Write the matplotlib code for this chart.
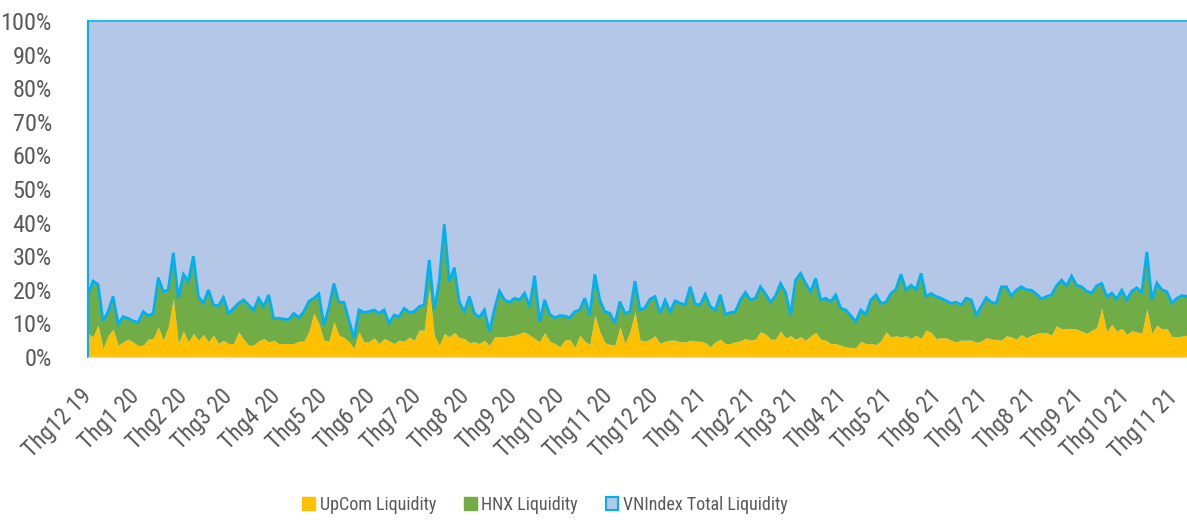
import numpy as np
import pandas as pd
import matplotlib
matplotlib.use("Agg")
import matplotlib.pyplot as plt
import matplotlib.dates as mdates
from matplotlib.patches import Patch
from matplotlib.transforms import ScaledTranslation

plt.rcParams['font.family'] = ['Liberation Sans Narrow', 'Roboto Condensed', 'DejaVu Sans Condensed', 'Roboto', 'DejaVu Sans']
plt.rcParams['font.stretch'] = 'condensed'

# ---- data (percent share of total market liquidity) ----
# UpCom + HNX combined share (top of the green band)
upcom_hnx_share = [
    18.5, 22.6, 21.6, 10.7, 13.5, 18.0, 9.8, 12.0, 11.5, 10.7, 10.3, 13.5, 12.3, 13.0, 23.6, 19.4, 20.0, 31.0, 17.5, 24.6, 22.5, 30.0,
    18.0, 16.0, 20.0, 15.5, 15.2, 17.7, 13.0, 14.5, 16.0, 17.0, 15.5, 14.0, 17.5, 15.0, 18.5, 11.5, 11.5, 11.3, 11.1, 13.0, 11.7, 13.5,
    16.5, 17.5, 18.8, 9.5, 14.7, 21.9, 16.3, 16.3, 11.0, 5.6, 14.0, 13.3, 13.5, 14.0, 13.0, 14.0, 10.0, 12.5, 12.0, 14.5, 13.3, 13.5,
    15.0, 15.5, 28.9, 14.0, 22.6, 39.5, 22.4, 26.6, 16.3, 13.5, 18.0, 13.0, 11.8, 14.0, 7.5, 14.3, 19.6, 17.0, 16.3, 17.5, 17.0, 19.0,
    15.0, 24.2, 10.5, 17.0, 12.7, 11.7, 12.3, 12.2, 11.7, 13.5, 14.0, 17.5, 12.5, 24.6, 16.9, 13.5, 13.0, 10.0, 16.5, 13.0, 13.5, 22.6,
    14.0, 14.7, 17.2, 18.0, 13.0, 16.9, 13.5, 16.7, 16.0, 15.5, 20.9, 15.7, 15.5, 18.7, 15.0, 14.0, 18.5, 12.7, 13.2, 13.5, 17.0, 19.2,
    17.0, 17.5, 20.9, 18.8, 16.3, 18.2, 21.9, 19.2, 12.5, 22.9, 24.9, 21.9, 19.4, 23.4, 17.0, 17.5, 16.5, 18.5, 14.5, 14.0, 12.3, 10.5,
    14.0, 12.7, 17.0, 18.5, 16.0, 16.3, 18.9, 20.2, 24.6, 19.9, 21.4, 20.0, 24.9, 18.0, 18.9, 18.0, 17.5, 16.7, 16.0, 16.3, 15.5, 17.5,
    17.0, 12.5, 15.0, 17.7, 16.3, 16.0, 20.9, 20.9, 18.2, 19.9, 20.9, 20.0, 19.9, 18.7, 17.3, 18.0, 18.5, 21.2, 22.9, 21.2, 24.1, 21.4,
    20.9, 19.6, 19.0, 21.2, 21.9, 18.0, 19.0, 17.3, 19.9, 17.0, 19.6, 20.6, 19.2, 31.3, 17.0, 22.0, 20.0, 19.4, 16.0, 17.5, 18.3, 18.0,
]

upcom_share = [
    7.0, 6.0, 9.5, 2.6, 6.3, 8.3, 3.5, 4.5, 5.3, 4.4, 3.4, 3.5, 5.3, 5.5, 9.0, 5.0, 9.0, 17.5, 4.0, 7.7, 4.5, 7.0,
    5.0, 6.7, 4.5, 6.5, 4.0, 5.0, 4.0, 4.0, 7.5, 5.3, 3.5, 3.5, 4.8, 5.5, 4.5, 5.0, 4.0, 4.0, 4.0, 4.0, 4.7, 4.7,
    7.5, 13.0, 10.0, 5.0, 4.7, 10.5, 6.5, 5.8, 4.5, 2.6, 7.5, 4.5, 4.5, 5.7, 4.0, 5.5, 4.8, 4.0, 5.0, 4.7, 5.9, 5.0,
    8.0, 8.0, 20.4, 6.3, 3.5, 7.0, 6.0, 7.3, 5.8, 5.5, 4.3, 4.5, 4.0, 5.0, 3.4, 6.0, 6.0, 6.0, 6.3, 6.5, 7.0, 7.5,
    6.5, 5.5, 4.5, 7.3, 4.7, 4.0, 3.0, 5.0, 5.3, 2.8, 6.5, 4.7, 3.7, 12.5, 7.5, 4.3, 3.7, 3.5, 9.0, 4.0, 7.5, 13.5,
    5.0, 4.7, 5.3, 6.3, 4.0, 4.7, 5.0, 5.0, 4.5, 4.5, 5.0, 4.7, 4.7, 4.3, 3.0, 4.5, 5.3, 4.0, 4.0, 4.5, 4.8, 5.5,
    5.0, 5.3, 7.5, 6.9, 5.3, 5.3, 7.7, 5.7, 6.3, 5.3, 6.0, 5.0, 6.3, 7.3, 5.3, 5.0, 4.0, 4.0, 3.5, 3.0, 2.8, 2.8,
    4.7, 4.0, 4.0, 3.7, 4.7, 7.5, 6.0, 6.3, 6.0, 6.3, 5.5, 6.5, 5.5, 8.0, 7.3, 5.5, 5.7, 5.7, 5.0, 4.5, 5.0, 5.0,
    5.0, 4.4, 4.7, 5.8, 5.3, 5.2, 5.0, 6.3, 6.0, 5.3, 6.7, 5.7, 6.5, 7.0, 7.3, 7.3, 6.5, 9.3, 8.3, 8.5, 8.5, 8.3,
    7.7, 7.0, 8.0, 8.7, 14.5, 7.5, 9.7, 7.7, 8.5, 6.7, 7.8, 7.5, 7.0, 14.3, 7.0, 9.5, 8.3, 8.5, 6.0, 6.0, 6.2, 6.5,
]

month_labels = ["Thg12 19", "Thg1 20", "Thg2 20", "Thg3 20", "Thg4 20", "Thg5 20", "Thg6 20", "Thg7 20",
                "Thg8 20", "Thg9 20", "Thg10 20", "Thg11 20", "Thg12 20", "Thg1 21", "Thg2 21", "Thg3 21",
                "Thg4 21", "Thg5 21", "Thg6 21", "Thg7 21", "Thg8 21", "Thg9 21", "Thg10 21", "Thg11 21"]
series_names = ["UpCom Liquidity", "HNX Liquidity", "VNIndex Total Liquidity"]

start_date, end_date = "2019-12-01", "2021-11-09"

# ---- derived ----
upcom = np.array(upcom_share)
top = np.array(upcom_hnx_share)
hnx = top - upcom
vn = 100 - top
dates = pd.date_range(start_date, end_date, periods=len(upcom))
x = mdates.date2num(dates)

c_up, c_hnx, c_vn, c_edge = "#FFC000", "#70AD47", "#B4C7E7", "#00B0F0"
txt = "#595959"

fig = plt.figure(figsize=(11.87, 5.2), dpi=100)
ax = fig.add_axes([88/1187, 163/520, 1 - 88/1187, (357-21)/520])

ax.fill_between(x, 0, upcom, color=c_up, lw=0)
ax.fill_between(x, upcom, upcom + hnx, color=c_hnx, lw=0)
ax.fill_between(x, upcom + hnx, upcom + hnx + vn, color=c_vn, lw=0)
ax.plot(x, upcom + hnx, color=c_edge, lw=2, solid_joinstyle="miter")

ax.set_ylim(0, 100)
ax.set_xlim(x[0], x[-1])
ax.set_yticks(np.arange(0, 101, 10))
ax.set_yticklabels([f"{v}%" for v in range(0, 101, 10)])

ticks = mdates.date2num(pd.date_range(start_date, periods=len(month_labels), freq="MS"))
ax.set_xticks(ticks)
ax.set_xticklabels(month_labels, rotation=45, ha="right", rotation_mode="anchor", va="center")
shift = ScaledTranslation(5/100, -9/100, fig.dpi_scale_trans)
for lab in ax.get_xticklabels():
    lab.set_transform(lab.get_transform() + shift)

ax.tick_params(axis="y", length=0, pad=26, labelsize=17.5, labelcolor=txt)
ax.tick_params(axis="x", length=0, pad=26, labelsize=16.8, labelcolor=txt)
ax.spines["right"].set_visible(False)
ax.spines["top"].set_color(c_edge)
ax.spines["top"].set_linewidth(1.2)
ax.spines["left"].set_color(c_edge)
ax.spines["left"].set_linewidth(1.5)
ax.spines["bottom"].set_color("#D9D9D9")
ax.spines["bottom"].set_linewidth(1)

handles = [Patch(facecolor=c_up, edgecolor=c_up),
           Patch(facecolor=c_hnx, edgecolor=c_hnx),
           Patch(facecolor=c_vn, edgecolor=c_edge, lw=1.5)]
fig.legend(handles, series_names, loc="center", bbox_to_anchor=(545/1187, 15/520), ncol=3,
           frameon=False, fontsize=13, labelcolor=txt, handlelength=0.7, handleheight=0.7,
           handletextpad=0.25, columnspacing=1.55)

fig.savefig("out.png", dpi=100)
